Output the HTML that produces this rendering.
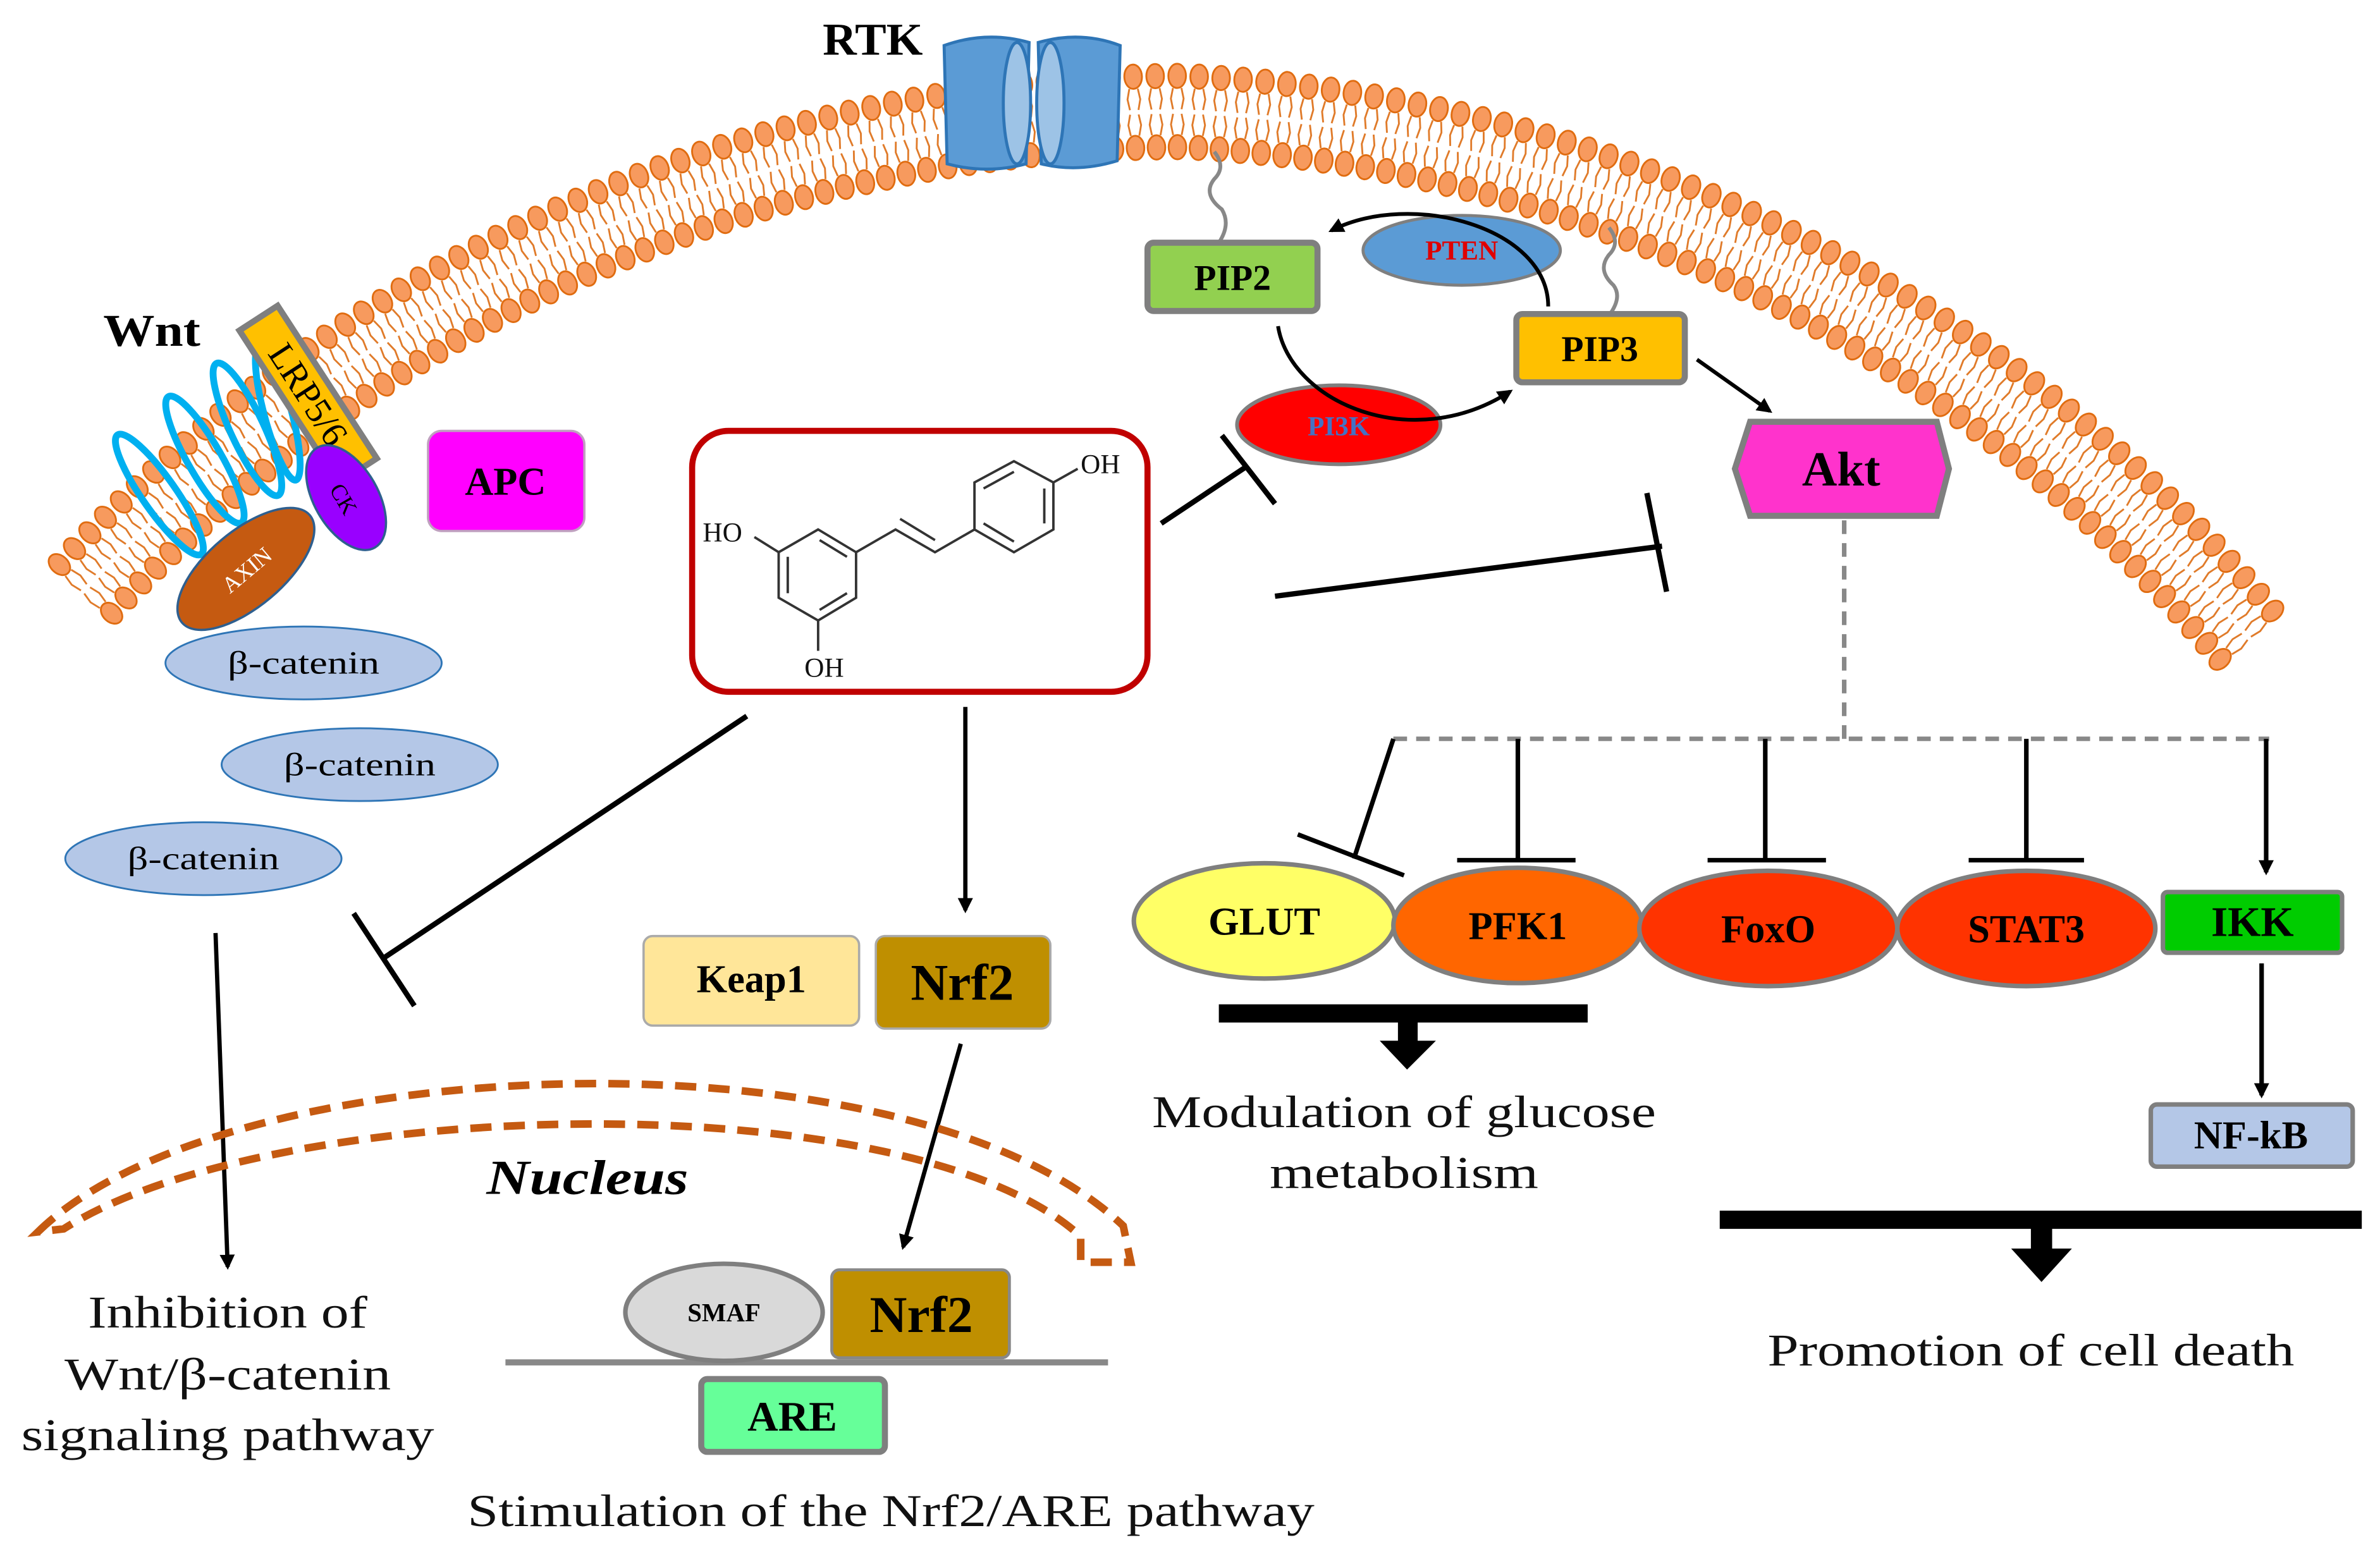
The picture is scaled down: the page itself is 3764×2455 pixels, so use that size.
<!DOCTYPE html>
<html><head><meta charset="utf-8"><style>
html,body{margin:0;padding:0;background:#fff;}
svg{display:block;}
text{font-family:"Liberation Serif",serif;}
</style></head><body>
<svg id="s" width="3764" height="2455" viewBox="0 0 1568 1023" preserveAspectRatio="none" xmlns="http://www.w3.org/2000/svg">
<defs>
<marker id="ah" markerWidth="10" markerHeight="10" refX="8" refY="5" orient="auto" markerUnits="userSpaceOnUse" viewBox="0 0 10 10"><path d="M0,0 L10,5 L0,10 Z" fill="#000"/></marker>
</defs>
<rect width="1568" height="1023" fill="#fff"/>
<g id="mem"></g>

<!-- RTK -->
<text x="575" y="36" font-size="30" font-weight="bold" text-anchor="middle" textLength="66" lengthAdjust="spacingAndGlyphs">RTK</text>
<g stroke="#2e75b6" stroke-width="2">
<path d="M622,30 Q650,20 678,28 L676,108 Q650,115 624,108 Z" fill="#5b9bd5"/>
<ellipse cx="670" cy="68" rx="9" ry="40" fill="#9dc3e6"/>
<path d="M684,28 Q712,20 738,30 L736,106 Q710,114 686,108 Z" fill="#5b9bd5"/>
<ellipse cx="692" cy="68" rx="9" ry="40" fill="#9dc3e6"/>
</g>

<!-- Wnt -->
<text x="100" y="228" font-size="30" font-weight="bold" text-anchor="middle" textLength="64" lengthAdjust="spacingAndGlyphs">Wnt</text>
<g fill="none" stroke="#00b0f0" stroke-width="4.5">
<ellipse cx="105" cy="326" rx="48" ry="11" transform="rotate(55 105 326)"/>
<ellipse cx="135" cy="303" rx="48" ry="11" transform="rotate(60 135 303)"/>
<ellipse cx="163" cy="283" rx="48" ry="11" transform="rotate(65 163 283)"/>
<ellipse cx="183" cy="272" rx="46" ry="9" transform="rotate(75 183 272)"/>
</g>
<g transform="translate(203,260) rotate(57)">
<rect x="-60" y="-15" width="120" height="30" fill="#ffc000" stroke="#7f7f7f" stroke-width="4"/>
<text x="0" y="8" font-size="24" text-anchor="middle">LRP5/6</text>
</g>
<ellipse cx="228" cy="328" rx="38" ry="21" fill="#9900ff" stroke="#2e5f8f" stroke-width="1.5" transform="rotate(60 228 328)"/>
<text x="228" y="335" font-size="15" text-anchor="middle" transform="rotate(60 228 328)">CK</text>
<ellipse cx="162" cy="375" rx="55" ry="25" fill="#c55a11" stroke="#2e5f8f" stroke-width="1.5" transform="rotate(-40 162 375)"/>
<text x="162" y="381" font-size="15" fill="#fff" text-anchor="middle" transform="rotate(-40 162 375)">AXIN</text>
<rect x="282" y="284" width="103" height="66" rx="9" fill="#ff00ff" stroke="#c0a0c0" stroke-width="1.5"/>
<text x="333" y="326" font-size="26" font-weight="bold" text-anchor="middle">APC</text>

<g fill="#b4c7e7" stroke="#2e75b6" stroke-width="1.2">
<ellipse cx="200" cy="437" rx="91" ry="24"/>
<ellipse cx="237" cy="504" rx="91" ry="24"/>
<ellipse cx="134" cy="566" rx="91" ry="24"/>
</g>
<g font-size="21" text-anchor="middle">
<text x="200" y="444" textLength="100" lengthAdjust="spacingAndGlyphs">β-catenin</text>
<text x="237" y="511" textLength="100" lengthAdjust="spacingAndGlyphs">β-catenin</text>
<text x="134" y="573" textLength="100" lengthAdjust="spacingAndGlyphs">β-catenin</text>
</g>

<!-- Resveratrol box -->
<rect x="456" y="284" width="300" height="172" rx="24" fill="#fff" stroke="#c00000" stroke-width="4"/>
<g stroke="#333" stroke-width="1.6" fill="none">
<polygon points="539,349 564,364 564,394 539,409 513,394 513,364"/>
<line x1="540" y1="356" x2="558" y2="367"/><line x1="519" y1="367" x2="519" y2="391"/><line x1="540" y1="402" x2="558" y2="391"/>
<polyline points="564,364 590,349 616,364 642,349"/>
<line x1="593" y1="342" x2="616" y2="356"/>
<polygon points="642,349 642,318 668,304 694,318 694,349 668,364"/>
<line x1="648" y1="322" x2="668" y2="311"/><line x1="688" y1="322" x2="688" y2="345"/><line x1="648" y1="345" x2="668" y2="357"/>
<line x1="694" y1="318" x2="710" y2="309"/>
<line x1="513" y1="364" x2="497" y2="354"/>
<line x1="539" y1="409" x2="539" y2="429"/>
</g>
<g font-size="18" fill="#111">
<text x="463" y="357" font-family="Liberation Sans,sans-serif">HO</text>
<text x="530" y="446" font-family="Liberation Sans,sans-serif">OH</text>
<text x="712" y="312" font-family="Liberation Sans,sans-serif">OH</text>
</g>

<!-- PIP2 / PTEN / PIP3 / PI3K -->
<g fill="none" stroke="#888" stroke-width="2.5">
<path d="M800,100 q8,10 0,18 q-8,10 5,20 q6,10 -2,22"/>
<path d="M1060,150 q8,10 0,18 q-8,10 3,20 q6,8 -3,20"/>
</g>
<rect x="756" y="160" width="112" height="45" rx="4" fill="#92d050" stroke="#7f7f7f" stroke-width="4"/>
<text x="812" y="191" font-size="24" font-weight="bold" text-anchor="middle">PIP2</text>
<ellipse cx="963" cy="165" rx="65" ry="23" fill="#5b9bd5" stroke="#7f7f7f" stroke-width="2"/>
<text x="963" y="171" font-size="18" font-weight="bold" fill="#e00000" text-anchor="middle">PTEN</text>
<rect x="999" y="207" width="111" height="45" rx="4" fill="#ffc000" stroke="#7f7f7f" stroke-width="4"/>
<text x="1054" y="238" font-size="24" font-weight="bold" text-anchor="middle">PIP3</text>
<ellipse cx="882" cy="280" rx="67" ry="26" fill="#ff0000" stroke="#7f7f7f" stroke-width="2.5"/>
<text x="882" y="287" font-size="18" font-weight="bold" fill="#4472c4" text-anchor="middle">PI3K</text>
<g fill="none" stroke="#000" stroke-width="2.5">
<path d="M842,215 C850,265 930,300 995,258" marker-end="url(#ah)"/>
<path d="M1020,202 C1020,150 930,125 877,152" marker-end="url(#ah)"/>
<line x1="1118" y1="237" x2="1166" y2="271" marker-end="url(#ah)"/>
</g>

<!-- Akt -->
<polygon points="1153,278 1276,278 1284,309 1276,340 1153,340 1143,309" fill="#ff33cc" stroke="#7f7f7f" stroke-width="4"/>
<text x="1213" y="320" font-size="32" font-weight="bold" text-anchor="middle">Akt</text>

<!-- inhibition lines -->
<g stroke="#000" stroke-width="3.5" fill="none">
<line x1="765" y1="345" x2="822" y2="307"/>
<line x1="805" y1="287" x2="840" y2="332"/>
<line x1="840" y1="393" x2="1095" y2="360"/>
<line x1="1085" y1="325" x2="1098" y2="390"/>
<line x1="492" y1="472" x2="252" y2="632"/>
<line x1="233" y1="602" x2="273" y2="663"/>
</g>
<g stroke="#000" stroke-width="2.8" fill="none">
<line x1="636" y1="466" x2="636" y2="600" marker-end="url(#ah)"/>
<line x1="633" y1="688" x2="595" y2="822" marker-end="url(#ah)"/>
<line x1="142" y1="615" x2="150" y2="835" marker-end="url(#ah)"/>
</g>

<!-- Akt downstream -->
<g stroke="#888" stroke-width="3" stroke-dasharray="9,6" fill="none">
<line x1="1215" y1="343" x2="1215" y2="487"/>
<line x1="918" y1="487" x2="1495" y2="487"/>
</g>
<g stroke="#000" stroke-width="3" fill="none">
<line x1="918" y1="487" x2="892" y2="566"/>
<line x1="855" y1="550" x2="925" y2="577"/>
<line x1="1000" y1="487" x2="1000" y2="567"/>
<line x1="960" y1="567" x2="1038" y2="567"/>
<line x1="1163" y1="487" x2="1163" y2="567"/>
<line x1="1125" y1="567" x2="1203" y2="567"/>
<line x1="1335" y1="487" x2="1335" y2="567"/>
<line x1="1297" y1="567" x2="1373" y2="567"/>
<line x1="1493" y1="487" x2="1493" y2="575" marker-end="url(#ah)"/>
<line x1="1490" y1="635" x2="1490" y2="722" marker-end="url(#ah)"/>
</g>
<g stroke="#7f7f7f" stroke-width="3">
<ellipse cx="833" cy="607" rx="86" ry="38" fill="#ffff66"/>
<ellipse cx="1000" cy="610" rx="82" ry="38" fill="#ff6600"/>
<ellipse cx="1165" cy="612" rx="85" ry="38" fill="#ff3300"/>
<ellipse cx="1335" cy="612" rx="85" ry="38" fill="#ff3300"/>
<rect x="1425" y="588" width="118" height="40" rx="3" fill="#00cc00"/>
<rect x="1417" y="728" width="133" height="41" rx="4" fill="#b4c7e7"/>
</g>
<g font-size="26" font-weight="bold" text-anchor="middle">
<text x="833" y="616">GLUT</text>
<text x="1000" y="619">PFK1</text>
<text x="1165" y="621">FoxO</text>
<text x="1335" y="621">STAT3</text>
<text x="1484" y="617" font-size="28">IKK</text>
<text x="1483" y="757">NF-kB</text>
</g>

<!-- big T arrows -->
<rect x="803" y="662" width="243" height="12" fill="#000"/>
<rect x="921" y="672" width="13" height="15" fill="#000"/>
<polygon points="909,686 946,686 927,705" fill="#000"/>
<rect x="1133" y="798" width="423" height="12" fill="#000"/>
<rect x="1338" y="808" width="14" height="16" fill="#000"/>
<polygon points="1325,823 1365,823 1345,845" fill="#000"/>

<!-- Keap1 / Nrf2 -->
<rect x="424" y="617" width="142" height="59" rx="6" fill="#ffe699" stroke="#aaa" stroke-width="1.5"/>
<text x="495" y="654" font-size="26" font-weight="bold" text-anchor="middle">Keap1</text>
<rect x="577" y="617" width="115" height="61" rx="6" fill="#bf8f00" stroke="#aaa" stroke-width="1.5"/>
<text x="634" y="659" font-size="34" font-weight="bold" text-anchor="middle">Nrf2</text>

<!-- nucleus -->
<path d="M25,812 C150,690 600,675 740,808 L745,832 L712,832 L712,815 C600,712 180,722 42,810 Z" fill="none" stroke="#c55a11" stroke-width="5" stroke-dasharray="14,8"/>
<text x="387" y="787" font-size="32" font-weight="bold" font-style="italic" text-anchor="middle" textLength="133" lengthAdjust="spacingAndGlyphs">Nucleus</text>

<line x1="333" y1="898" x2="730" y2="898" stroke="#888" stroke-width="4"/>
<ellipse cx="477" cy="865" rx="65" ry="32" fill="#d9d9d9" stroke="#7f7f7f" stroke-width="3"/>
<text x="477" y="871" font-size="17" font-weight="bold" text-anchor="middle">SMAF</text>
<rect x="548" y="837" width="117" height="58" rx="5" fill="#bf8f00" stroke="#888" stroke-width="2"/>
<text x="607" y="878" font-size="34" font-weight="bold" text-anchor="middle">Nrf2</text>
<rect x="462" y="909" width="121" height="48" rx="4" fill="#66ff99" stroke="#7f7f7f" stroke-width="4"/>
<text x="522" y="943" font-size="28" font-weight="bold" text-anchor="middle">ARE</text>

<!-- captions -->
<g font-size="30" text-anchor="middle" fill="#111" lengthAdjust="spacingAndGlyphs">
<text x="925" y="743" textLength="332" lengthAdjust="spacingAndGlyphs">Modulation of glucose</text>
<text x="925" y="783" textLength="177" lengthAdjust="spacingAndGlyphs">metabolism</text>
<text x="1338" y="900" textLength="347" lengthAdjust="spacingAndGlyphs">Promotion of cell death</text>
<text x="150" y="875" textLength="184" lengthAdjust="spacingAndGlyphs">Inhibition of</text>
<text x="150" y="916" textLength="215" lengthAdjust="spacingAndGlyphs">Wnt/β-catenin</text>
<text x="150" y="956" textLength="272" lengthAdjust="spacingAndGlyphs">signaling pathway</text>
<text x="587" y="1006" textLength="558" lengthAdjust="spacingAndGlyphs">Stimulation of the Nrf2/ARE pathway</text>
</g>
</svg>
<script>
(function(){
var g=document.getElementById('mem');
var cx=780,cy=1063;
var d2r=Math.PI/180;
var a0=-137*d2r,a1=-42.5*d2r;
function R(a){var deg=a/d2r; if(deg<=-90) return 1013; return 1013-(deg+90)/47.2*38;}
var h='',a=a0;
while(a<=a1+1e-6){
 var Ro=R(a),Ri=Ro-47;
 var c=Math.cos(a),s=Math.sin(a),px=-s,py=c;
 var ox=cx+Ro*c,oy=cy+Ro*s,ix=cx+Ri*c,iy=cy+Ri*s;
 for(var k=-1;k<=1;k+=2){
  var o=k*2.8;
  var m1=Ro-8,m2=Ro-22,n1=Ri+8,n2=Ri+22;
  h+='<polyline points="'+(cx+m1*c+o*px)+','+(cy+m1*s+o*py)+' '+(cx+(m1-7)*c+o*1.5*px)+','+(cy+(m1-7)*s+o*1.5*py)+' '+(cx+m2*c+o*px)+','+(cy+m2*s+o*py)+'" fill="none" stroke="#e07b2a" stroke-width="1.2"/>';
  h+='<polyline points="'+(cx+n1*c+o*px)+','+(cy+n1*s+o*py)+' '+(cx+(n1+7)*c+o*1.5*px)+','+(cy+(n1+7)*s+o*1.5*py)+' '+(cx+n2*c+o*px)+','+(cy+n2*s+o*py)+'" fill="none" stroke="#e07b2a" stroke-width="1.2"/>';
 }
 var rot=a/d2r;
 h+='<ellipse cx="'+ox+'" cy="'+oy+'" rx="8" ry="5.8" transform="rotate('+rot+' '+ox+' '+oy+')" fill="#f79a5e" stroke="#e06c10" stroke-width="1.2"/>';
 h+='<ellipse cx="'+ix+'" cy="'+iy+'" rx="8" ry="5.8" transform="rotate('+rot+' '+ix+' '+iy+')" fill="#f79a5e" stroke="#e06c10" stroke-width="1.2"/>';
 a+=14.5/Ro;
}
g.innerHTML=h;
})();
</script>
</body></html>
